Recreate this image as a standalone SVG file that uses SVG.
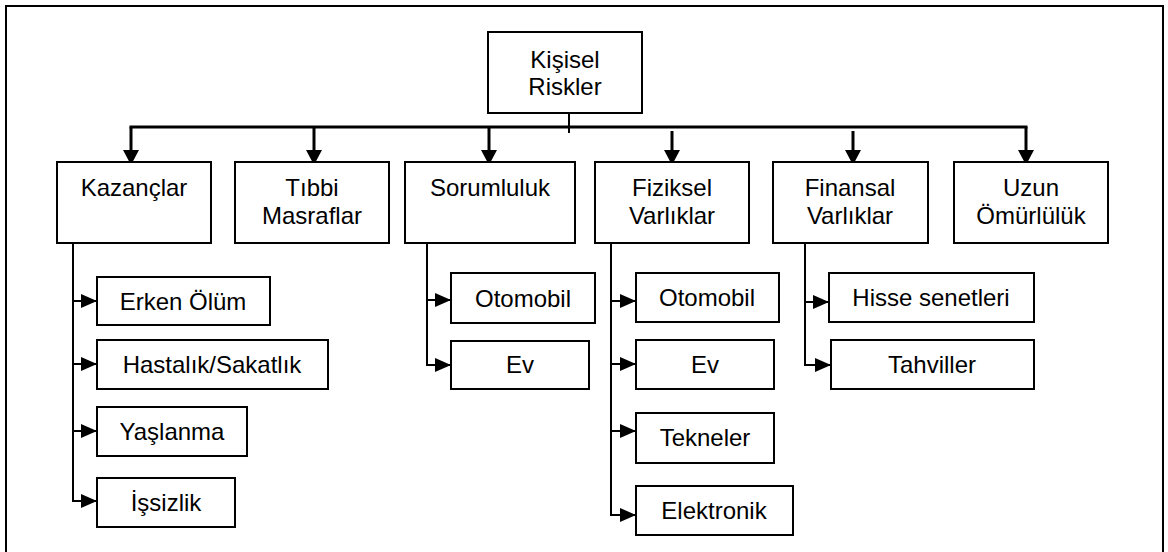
<svg xmlns="http://www.w3.org/2000/svg" width="1168" height="552" viewBox="0 0 1168 552">
<style>
.box{fill:#fff;stroke:#000;stroke-width:2}
.t{font-family:"Liberation Sans",Arial,sans-serif;font-size:24px;fill:#000;text-anchor:middle}
.bus{fill:none;stroke:#000;stroke-width:3}
.br{fill:none;stroke:#000;stroke-width:2}
</style>
<defs>
<marker id="ad" markerUnits="userSpaceOnUse" markerWidth="16" markerHeight="16" refX="15" refY="8" orient="auto"><path d="M0,0 L15,8 L0,16 z" fill="#000"/></marker>
<marker id="ar" markerUnits="userSpaceOnUse" markerWidth="16" markerHeight="14" refX="16" refY="7" orient="auto"><path d="M0,0 L16,7 L0,14 z" fill="#000"/></marker>
</defs>
<rect x="6" y="6" width="1157" height="600" fill="#fff" stroke="#000" stroke-width="2"/>

<g id="connectors">
<line x1="569" y1="107" x2="569" y2="133" class="br"/>
<line x1="129.5" y1="127" x2="1027.5" y2="127" class="bus"/>
<line x1="131" y1="127" x2="131" y2="165" class="bus" marker-end="url(#ad)"/>
<line x1="314" y1="127" x2="314" y2="165" class="bus" marker-end="url(#ad)"/>
<line x1="489" y1="127" x2="489" y2="165" class="bus" marker-end="url(#ad)"/>
<line x1="672" y1="131" x2="672" y2="165" class="bus" marker-end="url(#ad)"/>
<line x1="853" y1="131" x2="853" y2="165" class="bus" marker-end="url(#ad)"/>
<line x1="1026" y1="127" x2="1026" y2="165" class="bus" marker-end="url(#ad)"/>

<line x1="73" y1="243" x2="73" y2="502" class="br"/>
<line x1="72" y1="301" x2="97" y2="301" class="br" marker-end="url(#ar)"/>
<line x1="72" y1="364" x2="97" y2="364" class="br" marker-end="url(#ar)"/>
<line x1="72" y1="431" x2="97" y2="431" class="br" marker-end="url(#ar)"/>
<line x1="72" y1="501" x2="97" y2="501" class="br" marker-end="url(#ar)"/>

<line x1="427" y1="243" x2="427" y2="366" class="br"/>
<line x1="426" y1="300" x2="451" y2="300" class="br" marker-end="url(#ar)"/>
<line x1="426" y1="365" x2="451" y2="365" class="br" marker-end="url(#ar)"/>

<line x1="611" y1="243" x2="611" y2="516" class="br"/>
<line x1="610" y1="301" x2="636" y2="301" class="br" marker-end="url(#ar)"/>
<line x1="610" y1="364" x2="636" y2="364" class="br" marker-end="url(#ar)"/>
<line x1="610" y1="431" x2="636" y2="431" class="br" marker-end="url(#ar)"/>
<line x1="610" y1="515" x2="636" y2="515" class="br" marker-end="url(#ar)"/>

<line x1="805" y1="243" x2="805" y2="366" class="br"/>
<line x1="804" y1="302" x2="829" y2="302" class="br" marker-end="url(#ar)"/>
<line x1="804" y1="365" x2="831" y2="365" class="br" marker-end="url(#ar)"/>
</g>

<g id="n-root"><rect class="box" x="488" y="32" width="154" height="81"/><text class="t" x="565" y="68">Kişisel</text><text class="t" x="565" y="95">Riskler</text></g>

<g id="n-kazanclar"><rect class="box" x="57" y="162" width="154" height="81"/><text class="t" x="134" y="196">Kazançlar</text></g>
<g id="n-tibbi"><rect class="box" x="235" y="162" width="154" height="81"/><text class="t" x="312" y="196">Tıbbi</text><text class="t" x="312" y="224">Masraflar</text></g>
<g id="n-sorumluluk"><rect class="box" x="405" y="162" width="170" height="81"/><text class="t" x="490" y="196">Sorumluluk</text></g>
<g id="n-fiziksel"><rect class="box" x="595" y="162" width="154" height="81"/><text class="t" x="672" y="196">Fiziksel</text><text class="t" x="672" y="224">Varlıklar</text></g>
<g id="n-finansal"><rect class="box" x="773" y="162" width="155" height="81"/><text class="t" x="850" y="196">Finansal</text><text class="t" x="850" y="224">Varlıklar</text></g>
<g id="n-uzun"><rect class="box" x="954" y="162" width="154" height="81"/><text class="t" x="1031" y="196">Uzun</text><text class="t" x="1031" y="224">Ömürlülük</text></g>

<g id="n-erken"><rect class="box" x="97" y="277" width="173" height="48"/><text class="t" x="183" y="310">Erken Ölüm</text></g>
<g id="n-hastalik"><rect class="box" x="97" y="340" width="231" height="49"/><text class="t" x="212" y="373">Hastalık/Sakatlık</text></g>
<g id="n-yaslanma"><rect class="box" x="97" y="407" width="150" height="49"/><text class="t" x="172" y="440">Yaşlanma</text></g>
<g id="n-issizlik"><rect class="box" x="97" y="478" width="138" height="49"/><text class="t" x="166" y="511">İşsizlik</text></g>

<g id="n-s-otomobil"><rect class="box" x="451" y="273" width="144" height="50"/><text class="t" x="523" y="307">Otomobil</text></g>
<g id="n-s-ev"><rect class="box" x="451" y="341" width="138" height="48"/><text class="t" x="520" y="373">Ev</text></g>

<g id="n-f-otomobil"><rect class="box" x="636" y="273" width="143" height="49"/><text class="t" x="707" y="306">Otomobil</text></g>
<g id="n-f-ev"><rect class="box" x="636" y="340" width="138" height="49"/><text class="t" x="705" y="373">Ev</text></g>
<g id="n-tekneler"><rect class="box" x="636" y="413" width="138" height="50"/><text class="t" x="705" y="446">Tekneler</text></g>
<g id="n-elektronik"><rect class="box" x="636" y="486" width="157" height="49"/><text class="t" x="714" y="519">Elektronik</text></g>

<g id="n-hisse"><rect class="box" x="829" y="273" width="205" height="49"/><text class="t" x="931" y="306">Hisse senetleri</text></g>
<g id="n-tahviller"><rect class="box" x="831" y="340" width="203" height="49"/><text class="t" x="932" y="373">Tahviller</text></g>
</svg>
